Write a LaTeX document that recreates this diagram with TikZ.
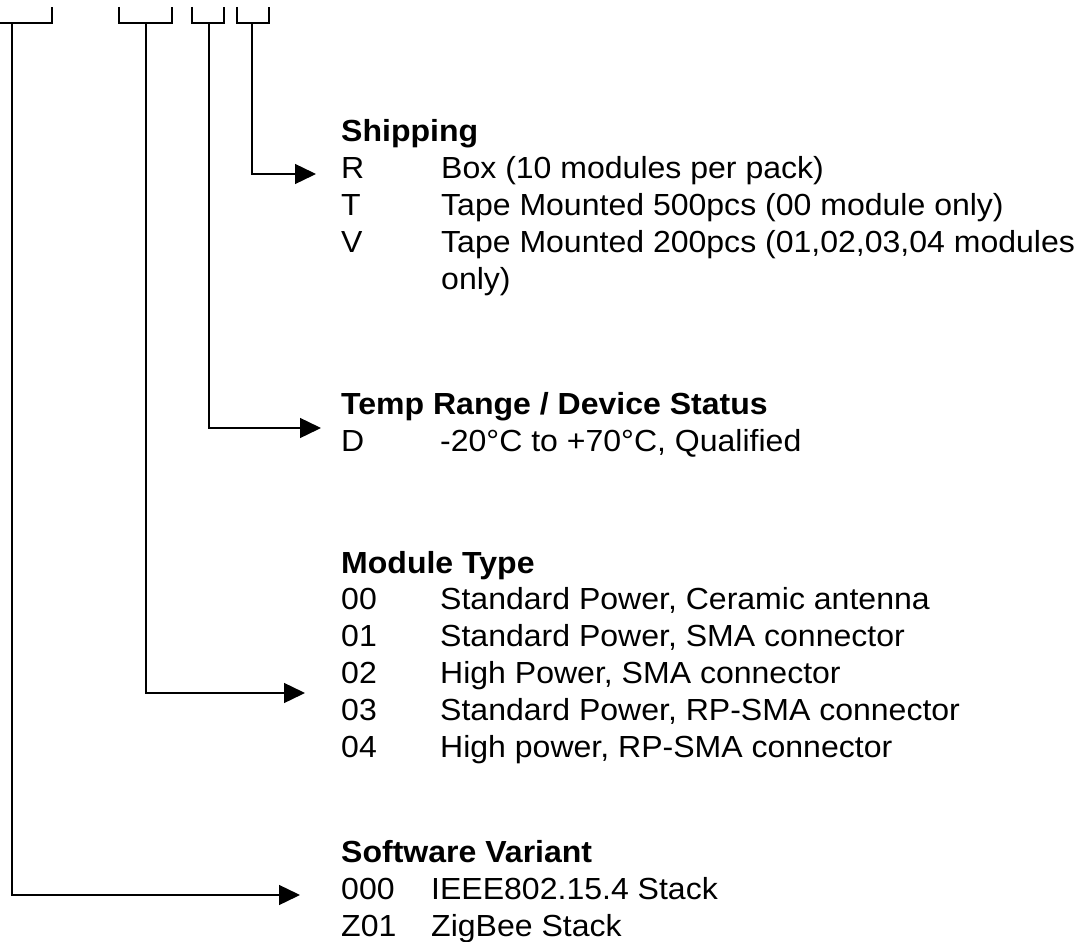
\documentclass[tikz,border=0pt]{standalone}
\usepackage{fontspec}
\setmainfont{Liberation Sans}[FakeStretch=1.05]
\usetikzlibrary{arrows.meta}
\begin{document}
\begin{tikzpicture}[x=1pt,y=-1pt,
  wire/.style={line width=1.4pt},
  arrowwire/.style={wire,-{Triangle[length=21pt,width=20pt]}},
  txt/.style={anchor=base west,inner sep=0pt,font=\fontsize{30.5}{37}\selectfont},
  ttl/.style={anchor=base west,inner sep=0pt,font=\fontsize{30.5}{37}\selectfont\bfseries}]
\useasboundingbox (0,0) rectangle (1088,942);

% brackets
\draw[wire] (0,23) -- (52,23) -- (52,7);
\draw[wire] (119,7) -- (119,23) -- (172,23) -- (172,7);
\draw[wire] (192,7) -- (192,23) -- (224,23) -- (224,7);
\draw[wire] (237,7) -- (237,23) -- (269,23) -- (269,7);

\coordinate (s1) at (12,23);
\coordinate (s2) at (146,23);
\coordinate (s3) at (209,23);
\coordinate (s4) at (252,23);

\coordinate (a4) at (316,174);
\coordinate (a3) at (321,428);
\coordinate (a2) at (305,693);
\coordinate (a1) at (300,895);

\draw[arrowwire] (s4) |- (a4);
\draw[arrowwire] (s3) |- (a3);
\draw[arrowwire] (s2) |- (a2);
\draw[arrowwire] (s1) |- (a1);

% Shipping
\node[ttl] (shipT) at (341,142) {Shipping};
\node[txt] (shipR) at (341,178) {R};
\node[txt] (shipRd) at (441,178) {Box (10 modules per pack)};
\node[txt] (shipTT) at (341,215) {T};
\node[txt] (shipTd) at (441,215) {Tape Mounted 500pcs (00 module only)};
\node[txt] (shipV) at (341,252) {V};
\node[txt] (shipVd) at (441,252) {Tape Mounted 200pcs (01,02,03,04 modules};
\node[txt] (shipVe) at (441,289) {only)};

% Temp
\node[ttl] (tempT) at (341,414) {Temp Range / Device Status};
\node[txt] (tempD) at (341,451) {D};
\node[txt] (tempDd) at (440,451) {-20°C to +70°C, Qualified};

% Module type
\node[ttl] (modT) at (341,573) {Module Type};
\node[txt] (m0) at (341,609) {00};
\node[txt] (m0d) at (440,609) {Standard Power, Ceramic antenna};
\node[txt] (m1) at (341,646) {01};
\node[txt] (m1d) at (440,646) {Standard Power, SMA connector};
\node[txt] (m2) at (341,683) {02};
\node[txt] (m2d) at (440,683) {High Power, SMA connector};
\node[txt] (m3) at (341,720) {03};
\node[txt] (m3d) at (440,720) {Standard Power, RP-SMA connector};
\node[txt] (m4) at (341,757) {04};
\node[txt] (m4d) at (440,757) {High power, RP-SMA connector};

% Software
\node[ttl] (swT) at (341,862) {Software Variant};
\node[txt] (sw0) at (341,899) {000};
\node[txt] (sw0d) at (431,899) {IEEE802.15.4 Stack};
\node[txt] (sw1) at (341,936) {Z01};
\node[txt] (sw1d) at (431,936) {ZigBee Stack};
\end{tikzpicture}
\end{document}
